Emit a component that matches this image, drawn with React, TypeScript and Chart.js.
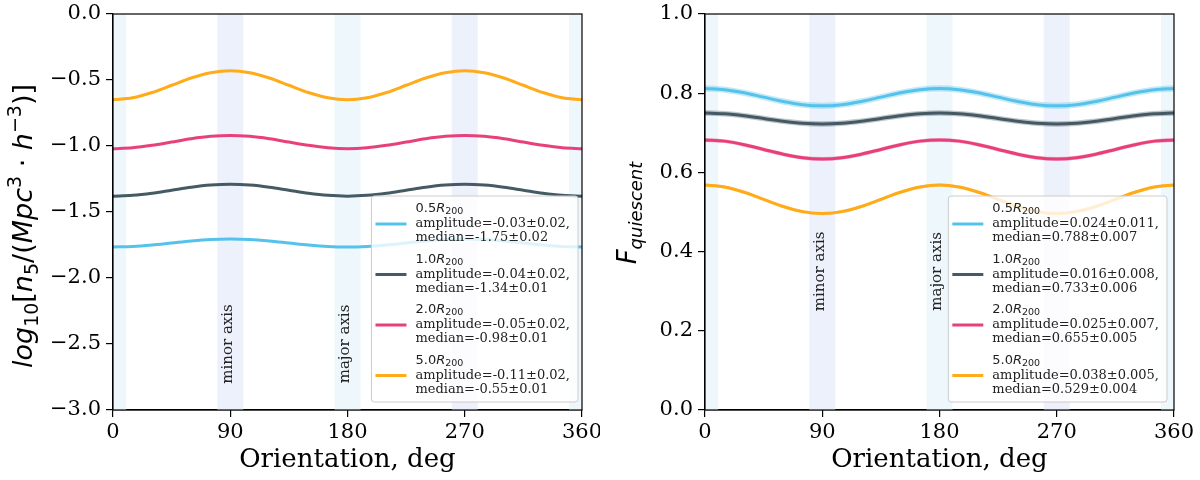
import { useEffect, useRef } from 'react';
import { Chart, registerables } from 'chart.js';

Chart.register(...registerables);

// orientation angles, deg
const angles = [0, 15, 30, 45, 60, 75, 90, 105, 120, 135, 150, 165, 180, 195, 210, 225, 240, 255, 270, 285, 300, 315, 330, 345, 360];

// left panel: log10 n5
const n5_05 = [-1.765, -1.761, -1.75, -1.735, -1.72, -1.709, -1.705, -1.709, -1.72, -1.735, -1.75, -1.761, -1.765, -1.761, -1.75, -1.735, -1.72, -1.709, -1.705, -1.709, -1.72, -1.735, -1.75, -1.761, -1.765];
const n5_10 = [-1.38, -1.374, -1.358, -1.335, -1.312, -1.296, -1.29, -1.296, -1.312, -1.335, -1.358, -1.374, -1.38, -1.374, -1.358, -1.335, -1.312, -1.296, -1.29, -1.296, -1.312, -1.335, -1.358, -1.374, -1.38];
const n5_20 = [-1.02, -1.013, -0.995, -0.97, -0.945, -0.927, -0.92, -0.927, -0.945, -0.97, -0.995, -1.013, -1.02, -1.013, -0.995, -0.97, -0.945, -0.927, -0.92, -0.927, -0.945, -0.97, -0.995, -1.013, -1.02];
const n5_50 = [-0.65, -0.635, -0.595, -0.54, -0.485, -0.445, -0.43, -0.445, -0.485, -0.54, -0.595, -0.635, -0.65, -0.635, -0.595, -0.54, -0.485, -0.445, -0.43, -0.445, -0.485, -0.54, -0.595, -0.635, -0.65];

// right panel: quiescent fraction
const fq_05 = [0.812, 0.809, 0.801, 0.79, 0.779, 0.771, 0.768, 0.771, 0.779, 0.79, 0.801, 0.809, 0.812, 0.809, 0.801, 0.79, 0.779, 0.771, 0.768, 0.771, 0.779, 0.79, 0.801, 0.809, 0.812];
const fq_10 = [0.75, 0.748, 0.743, 0.736, 0.729, 0.724, 0.722, 0.724, 0.729, 0.736, 0.743, 0.748, 0.75, 0.748, 0.743, 0.736, 0.729, 0.724, 0.722, 0.724, 0.729, 0.736, 0.743, 0.748, 0.75];
const fq_20 = [0.682, 0.679, 0.67, 0.658, 0.646, 0.637, 0.634, 0.637, 0.646, 0.658, 0.67, 0.679, 0.682, 0.679, 0.67, 0.658, 0.646, 0.637, 0.634, 0.637, 0.646, 0.658, 0.67, 0.679, 0.682];
const fq_50 = [0.568, 0.563, 0.55, 0.532, 0.514, 0.501, 0.496, 0.501, 0.514, 0.532, 0.55, 0.563, 0.568, 0.563, 0.55, 0.532, 0.514, 0.501, 0.496, 0.501, 0.514, 0.532, 0.55, 0.563, 0.568];
const fqErr = [0.008, 0.007, 0.005, 0.004];

const radii = ['0.5', '1.0', '2.0', '5.0'];
const colors = ['#55c2ec', '#455a64', '#e8407a', '#ffab1a'];
const leftAmp = ['amplitude=-0.03±0.02,', 'amplitude=-0.04±0.02,', 'amplitude=-0.05±0.02,', 'amplitude=-0.11±0.02,'];
const leftMed = ['median=-1.75±0.02', 'median=-1.34±0.01', 'median=-0.98±0.01', 'median=-0.55±0.01'];
const rightAmp = ['amplitude=0.024±0.011,', 'amplitude=0.016±0.008,', 'amplitude=0.025±0.007,', 'amplitude=0.038±0.005,'];
const rightMed = ['median=0.788±0.007', 'median=0.733±0.006', 'median=0.655±0.005', 'median=0.529±0.004'];

const xTicks = [0, 90, 180, 270, 360];
const minorBands = [[80, 100], [260, 280]];
const majorBands = [[0, 10], [170, 190], [350, 360]];

const SERIF = '"DejaVu Serif", serif';
const SANS = '"DejaVu Sans", sans-serif';

const hexA = (hex, a) => {
  const n = parseInt(hex.slice(1), 16);
  return `rgba(${(n >> 16) & 255},${(n >> 8) & 255},${n & 255},${a})`;
};

// segments: [text, fontSize, italic, baselineShift]
const drawRich = (ctx, segs, cx, cy, rotate) => {
  ctx.save();
  ctx.translate(cx, cy);
  if (rotate) ctx.rotate(-Math.PI / 2);
  ctx.fillStyle = '#000';
  ctx.textBaseline = 'alphabetic';
  ctx.textAlign = 'left';
  let total = 0;
  segs.forEach(([t, s, it]) => {
    ctx.font = `${it ? 'italic ' : ''}${s}px ${SANS}`;
    total += ctx.measureText(t).width;
  });
  let x = -total / 2;
  segs.forEach(([t, s, it, dy]) => {
    ctx.font = `${it ? 'italic ' : ''}${s}px ${SANS}`;
    ctx.fillText(t, x, 9 + dy);
    x += ctx.measureText(t).width;
  });
  ctx.restore();
};

const decorPlugin = {
  id: 'decor',
  beforeDatasetsDraw(chart, args, opts) {
    const { ctx, chartArea: a, scales } = chart;
    const x = scales.x;
    const y = scales.y;
    ctx.save();
    const band = (b, col) => {
      const x0 = x.getPixelForValue(b[0]);
      const x1 = x.getPixelForValue(b[1]);
      ctx.fillStyle = col;
      ctx.fillRect(x0, a.top, x1 - x0, a.bottom - a.top);
    };
    minorBands.forEach((b) => band(b, '#edf1fb'));
    majorBands.forEach((b) => band(b, '#eef7fb'));
    ctx.fillStyle = '#222';
    ctx.font = `15px ${SERIF}`;
    ctx.textAlign = 'center';
    ctx.textBaseline = 'middle';
    [['minor axis', 88], ['major axis', 178]].forEach(([t, v]) => {
      ctx.save();
      ctx.translate(x.getPixelForValue(v), y.getPixelForValue(opts.textY));
      ctx.rotate(-Math.PI / 2);
      ctx.fillText(t, 0, 0);
      ctx.restore();
    });
    ctx.restore();
  },
  afterDraw(chart, args, opts) {
    const { ctx, chartArea: a } = chart;
    ctx.save();
    // legend
    ctx.font = `13px ${SERIF}`;
    let tw = 0;
    opts.amp.concat(opts.med).forEach((t) => { tw = Math.max(tw, ctx.measureText(t).width); });
    const w = 44 + tw + 8;
    const h = 206;
    const bx = a.right - opts.legendGap - w;
    const by = a.bottom - 8 - h;
    ctx.beginPath();
    ctx.roundRect(bx, by, w, h, 3);
    ctx.fillStyle = 'rgba(255,255,255,0.8)';
    ctx.fill();
    ctx.strokeStyle = '#cccccc';
    ctx.lineWidth = 1;
    ctx.stroke();
    ctx.textBaseline = 'middle';
    ctx.textAlign = 'left';
    radii.forEach((r, i) => {
      const ey = by + 13 + i * 50.5;
      ctx.strokeStyle = colors[i];
      ctx.lineWidth = 3;
      ctx.beginPath();
      ctx.moveTo(bx + 4, ey + 15);
      ctx.lineTo(bx + 35, ey + 15);
      ctx.stroke();
      ctx.fillStyle = '#222';
      let tx = bx + 44;
      ctx.font = `13px ${SANS}`;
      ctx.fillText(r, tx, ey);
      tx += ctx.measureText(r).width;
      ctx.font = `italic 13px ${SANS}`;
      ctx.fillText('R', tx, ey);
      tx += ctx.measureText('R').width;
      ctx.font = `9.5px ${SANS}`;
      ctx.fillText('200', tx, ey + 3);
      ctx.font = `13px ${SERIF}`;
      ctx.fillText(opts.amp[i], bx + 44, ey + 15);
      ctx.fillText(opts.med[i], bx + 44, ey + 29);
    });
    // top and right spines
    ctx.strokeStyle = '#000';
    ctx.lineWidth = 1.2;
    ctx.strokeRect(a.left, a.top, a.right - a.left, a.bottom - a.top);
    drawRich(ctx, opts.title, opts.titleX, opts.titleY, true);
    ctx.restore();
  },
};

const lineSet = (vals, col) => ({
  data: angles.map((x, i) => ({ x, y: vals[i] })),
  borderColor: col,
  borderWidth: 3,
  pointRadius: 0,
  fill: false,
  cubicInterpolationMode: 'monotone',
});

const bandSets = (vals, err, col) => [
  {
    data: angles.map((x, i) => ({ x, y: vals[i] + err })),
    borderWidth: 0,
    pointRadius: 0,
    backgroundColor: hexA(col, 0.35),
    fill: '+1',
    cubicInterpolationMode: 'monotone',
  },
  {
    data: angles.map((x, i) => ({ x, y: vals[i] - err })),
    borderWidth: 0,
    pointRadius: 0,
    fill: false,
    cubicInterpolationMode: 'monotone',
  },
];

const makeOptions = (cfg) => ({
  animation: false,
  responsive: true,
  maintainAspectRatio: false,
  layout: { padding: { top: 14, right: cfg.padRight, left: 0, bottom: 0 } },
  plugins: {
    legend: { display: false },
    tooltip: { enabled: false },
    decor: cfg.decor,
  },
  scales: {
    x: {
      type: 'linear',
      min: 0,
      max: 360,
      afterBuildTicks: (s) => { s.ticks = xTicks.map((v) => ({ value: v })); },
      afterFit: (s) => { s.height = 70; s.paddingLeft = 0; s.paddingRight = 0; },
      grid: { drawOnChartArea: false, drawTicks: true, tickLength: 7, color: '#000', lineWidth: 1.2 },
      border: { display: true, color: '#000', width: 1.2 },
      ticks: { color: '#000', font: { family: SERIF, size: 21 }, padding: 3, maxRotation: 0 },
      title: { display: true, text: 'Orientation, deg', color: '#000', font: { family: SERIF, size: 26 }, padding: { top: 0 } },
    },
    y: {
      min: cfg.yMin,
      max: cfg.yMax,
      afterBuildTicks: (s) => { s.ticks = cfg.yTicks.map((v) => ({ value: v })); },
      afterFit: (s) => { s.width = cfg.yWidth; s.paddingTop = 0; s.paddingBottom = 0; },
      grid: { drawOnChartArea: false, drawTicks: true, tickLength: 7, color: '#000', lineWidth: 1.2 },
      border: { display: true, color: '#000', width: 1.2 },
      ticks: {
        color: '#000',
        font: { family: SERIF, size: 21 },
        padding: 5,
        callback: (v) => Number(v).toFixed(1).replace('-', '\u2212'),
      },
    },
  },
});

const Panel = ({ datasets, cfg, left }) => {
  const ref = useRef(null);
  useEffect(() => {
    const chart = new Chart(ref.current.getContext('2d'), {
      type: 'line',
      data: { datasets },
      options: makeOptions(cfg),
      plugins: [decorPlugin],
    });
    return () => chart.destroy();
  }, []);
  return (
    <div style={{ position: 'absolute', left, top: 0, width: 600, height: 480 }}>
      <canvas ref={ref}></canvas>
    </div>
  );
};

export default function App() {
  const leftVals = [n5_05, n5_10, n5_20, n5_50];
  const rightVals = [fq_05, fq_10, fq_20, fq_50];
  const leftSets = leftVals.map((v, i) => lineSet(v, colors[i]));
  const rightSets = [];
  rightVals.forEach((v, i) => {
    rightSets.push(...bandSets(v, fqErr[i], colors[i]));
    rightSets.push(lineSet(v, colors[i]));
  });

  const leftCfg = {
    padRight: 18,
    yWidth: 113,
    yMin: -3,
    yMax: 0,
    yTicks: [-3, -2.5, -2, -1.5, -1, -0.5, 0],
    decor: {
      textY: -2.5,
      amp: leftAmp,
      med: leftMed,
      legendGap: 4,
      titleX: 23,
      titleY: 226,
      title: [
        ['log', 27, true, 0], ['10', 19, false, 6], ['[', 27, false, 0], ['n', 27, true, 0], ['5', 19, false, 6],
        ['/(', 27, false, 0], ['Mpc', 27, true, 0], ['3', 19, false, -11], [' \u00b7 ', 27, false, 0],
        ['h', 27, true, 0], ['\u22123', 19, false, -11], [')]', 27, false, 0],
      ],
    },
  };
  const rightCfg = {
    padRight: 26,
    yWidth: 105,
    yMin: 0,
    yMax: 1,
    yTicks: [0, 0.2, 0.4, 0.6, 0.8, 1],
    decor: {
      textY: 0.35,
      amp: rightAmp,
      med: rightMed,
      legendGap: 7,
      titleX: 27,
      titleY: 213,
      title: [['F', 26, true, 0], ['quiescent', 18, true, 6]],
    },
  };

  return (
    <div style={{ position: 'fixed', left: 0, top: 0, width: 1200, height: 480, background: '#fff' }}>
      <Panel datasets={leftSets} cfg={leftCfg} left={0} />
      <Panel datasets={rightSets} cfg={rightCfg} left={600} />
    </div>
  );
}
